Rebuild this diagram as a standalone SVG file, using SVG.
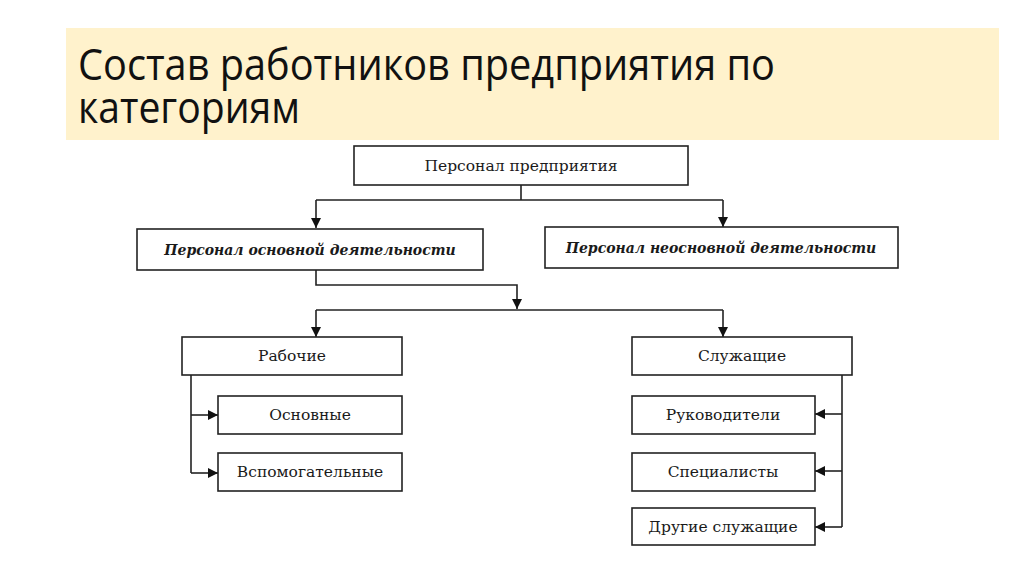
<svg xmlns="http://www.w3.org/2000/svg" width="1024" height="574" viewBox="0 0 1024 574">
<style>
.box{fill:#fff;stroke:#222;stroke-width:1.6}
.t{font-family:"DejaVu Serif","Liberation Serif",serif;font-size:15.5px;fill:#1a1a1a;text-anchor:middle}
.bi{font-style:italic;font-weight:bold;font-size:14px}
.ln{fill:none;stroke:#222;stroke-width:1.6}
.title{font-family:"Open Sans","Liberation Sans",sans-serif;font-size:44px;fill:#111}
</style>
<defs>
<marker id="a" viewBox="0 0 10 10" refX="10" refY="5" markerWidth="10" markerHeight="10" markerUnits="userSpaceOnUse" orient="auto">
<path d="M0,0 L10,5 L0,10 Z" fill="#111"/>
</marker>
</defs>
<rect width="1024" height="574" fill="#fff"/>
<g id="title">
<rect x="66" y="28" width="933" height="112" fill="#FFF2CC"/>
<text class="title" x="78" y="80" textLength="697" lengthAdjust="spacingAndGlyphs">Состав работников предприятия по</text>
<text class="title" x="78" y="123" textLength="222" lengthAdjust="spacingAndGlyphs">категориям</text>
</g>
<g id="connectors">
<path class="ln" d="M521,185 V200 M316,200 H723"/>
<path class="ln" d="M316,200 V228" marker-end="url(#a)"/>
<path class="ln" d="M723,200 V227" marker-end="url(#a)"/>
<path class="ln" d="M316,270 V285 H517 V309" marker-end="url(#a)"/>
<path class="ln" d="M316,310 H723"/>
<path class="ln" d="M316,310 V337" marker-end="url(#a)"/>
<path class="ln" d="M723,310 V337" marker-end="url(#a)"/>
<path class="ln" d="M191,375 V473"/>
<path class="ln" d="M191,415 H218" marker-end="url(#a)"/>
<path class="ln" d="M191,473 H218" marker-end="url(#a)"/>
<path class="ln" d="M842,375 V527"/>
<path class="ln" d="M842,414 H815" marker-end="url(#a)"/>
<path class="ln" d="M842,471 H815" marker-end="url(#a)"/>
<path class="ln" d="M842,527 H815" marker-end="url(#a)"/>
</g>
<g id="n1"><rect class="box" x="354" y="146" width="334" height="39"/><text class="t" x="521" y="171">Персонал предприятия</text></g>
<g id="n2"><rect class="box" x="137" y="229" width="346" height="41"/><text class="t bi" x="310" y="255">Персонал основной деятельности</text></g>
<g id="n3"><rect class="box" x="545" y="227" width="353" height="41"/><text class="t bi" x="721" y="253">Персонал неосновной деятельности</text></g>
<g id="n4"><rect class="box" x="182" y="337" width="220" height="38"/><text class="t" x="292" y="361">Рабочие</text></g>
<g id="n5"><rect class="box" x="218" y="396" width="184" height="38"/><text class="t" x="310" y="420">Основные</text></g>
<g id="n6"><rect class="box" x="218" y="453" width="184" height="38"/><text class="t" x="310" y="477">Вспомогательные</text></g>
<g id="n7"><rect class="box" x="632" y="337" width="220" height="38"/><text class="t" x="742" y="361">Служащие</text></g>
<g id="n8"><rect class="box" x="632" y="396" width="183" height="38"/><text class="t" x="723" y="420">Руководители</text></g>
<g id="n9"><rect class="box" x="632" y="453" width="183" height="38"/><text class="t" x="723" y="477">Специалисты</text></g>
<g id="n10"><rect class="box" x="632" y="508" width="183" height="37"/><text class="t" x="723" y="532">Другие служащие</text></g>
</svg>
